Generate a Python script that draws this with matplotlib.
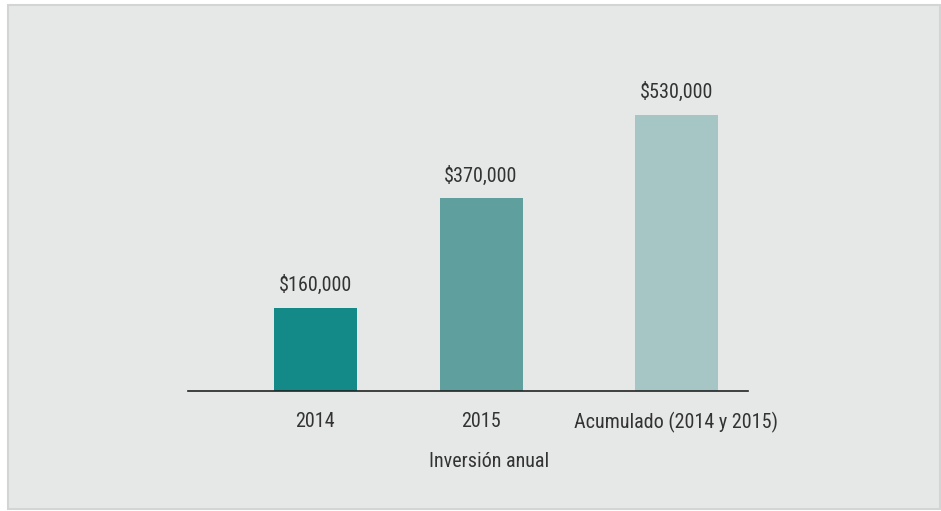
import matplotlib
matplotlib.use("Agg")
import matplotlib.pyplot as plt
from matplotlib.patches import Rectangle
from matplotlib import font_manager

categories = ["2014", "2015", "Acumulado (2014 y 2015)"]
values = [160000, 370000, 530000]
value_labels = ["$160,000", "$370,000", "$530,000"]
xlabel = "Inversión anual"

positions = [0.0, 1.0, 2.175]
colors = ["#138a87", "#5fa09f", "#a6c6c6"]

avail = {f.name for f in font_manager.fontManager.ttflist}
fam = [f for f in ["Roboto Condensed", "Liberation Sans Narrow", "DejaVu Sans"] if f in avail]
if not fam:
    fam = ["DejaVu Sans"]
plt.rcParams['font.family'] = fam

W, H = 941, 511
fig = plt.figure(figsize=(W/100, H/100), dpi=100)
fig.patch.set_facecolor("white")
fig.patches.append(Rectangle((7.5/W, 2.5/H), (940-7.5)/W, (506-2.5)/H, transform=fig.transFigure,
                             facecolor="#e6e8e7", edgecolor="#d3d5d5", linewidth=1.5, zorder=-10))

ax = fig.add_axes([188/W, 120/H, (748-188)/W, 331/H])
ax.set_zorder(5)
ax.patch.set_visible(False)
ax.bar(positions, values, width=0.5, color=colors, zorder=2)
ax.set_xlim(-0.765, 2.608)
ax.set_ylim(0, 331/0.521*1000)
for s in ["top", "right", "left"]:
    ax.spines[s].set_visible(False)
ax.spines["bottom"].set_color("#222222")
ax.spines["bottom"].set_linewidth(1.2)
ax.set_yticks([])
ax.set_xticks(positions)
ax.set_xticklabels(categories, fontsize=14.5, color="#333333")
ax.tick_params(axis="x", length=0, pad=15)
ax.set_xlabel(xlabel, fontsize=14.5, color="#333333")
ax.xaxis.set_label_coords(0.5375, -0.2115)
ax.xaxis.label.set_va("center")
for x, v, lab in zip(positions, values, value_labels):
    ax.annotate(lab, (x, v), xytext=(0, 9), textcoords="offset points", ha="center", va="bottom",
                fontsize=14.5, color="#333333")

fig.savefig("out.png", dpi=100)
